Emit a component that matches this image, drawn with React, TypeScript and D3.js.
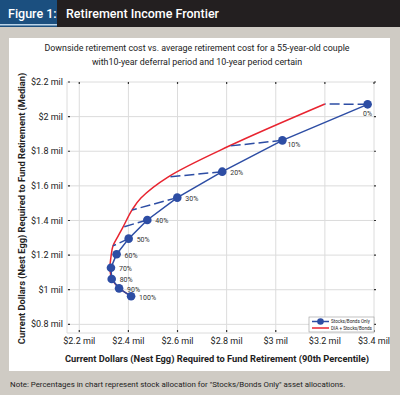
import React, { useRef, useEffect } from 'react';
import * as d3 from 'd3';

// Stocks/Bonds Only portfolios (stock allocation, 90th pct cost, median cost) in $ mil
const stockPct = ['0%', '10%', '20%', '30%', '40%', '50%', '60%', '70%', '80%', '90%', '100%'];
const sbX = [3.374, 3.027, 2.782, 2.599, 2.477, 2.401, 2.352, 2.329, 2.332, 2.362, 2.411];
const sbY = [2.071, 1.863, 1.682, 1.532, 1.403, 1.295, 1.205, 1.127, 1.062, 1.008, 0.962];

// DIA + Stocks/Bonds frontier
const diaX = [3.2, 2.81, 2.561, 2.451, 2.415, 2.378, 2.358, 2.337, 2.329, 2.325, 2.333, 2.362, 2.411];
const diaY = [2.073, 1.83, 1.651, 1.53, 1.461, 1.362, 1.31, 1.253, 1.189, 1.126, 1.062, 1.01, 0.964];

// which DIA point each Stocks/Bonds portfolio moves to (dashed)
const dashFrom = [0, 1, 2, 3, 4, 5];
const dashTo = [0, 1, 2, 4, 5, 7];

const xTicks = [2.2, 2.4, 2.6, 2.8, 3, 3.2, 3.4];
const yTicks = [0.8, 1, 1.2, 1.4, 1.6, 1.8, 2, 2.2];

const BLUE = '#2d4da4';
const RED = '#e82430';
const FONT = 'Roboto, "Noto Sans", sans-serif';

export default function App() {
    const svgRef = useRef<SVGSVGElement>(null);
    const width = 400;
    const height = 395;
    const margin = { top: 82, right: 26, bottom: 62, left: 67 };

    useEffect(() => {
        const svg = d3.select(svgRef.current);
        svg.selectAll('*').remove();

        // page background + header
        svg.append('rect').attr('width', width).attr('height', height).attr('fill', '#cfcbc4');
        svg.append('rect').attr('width', width).attr('height', 27).attr('fill', '#231f20');
        svg.append('rect').attr('width', 57).attr('height', 27).attr('fill', '#1b4f7f');
        svg.append('rect').attr('y', 24).attr('width', 57).attr('height', 1.5).attr('fill', '#b9d3e8');
        svg.append('text')
            .attr('x', 8).attr('y', 18)
            .attr('fill', 'white').attr('font-size', 12.5).attr('font-weight', 500)
            .attr('font-family', FONT)
            .text('Figure 1:');
        svg.append('text')
            .attr('x', 66).attr('y', 18)
            .attr('fill', 'white').attr('font-size', 12.5).attr('font-weight', 500)
            .attr('font-family', FONT)
            .text('Retirement Income Frontier');

        // white panel
        svg.append('rect').attr('x', 9).attr('y', 38).attr('width', 381).attr('height', 333).attr('fill', 'white');

        svg.append('text')
            .attr('x', 197).attr('y', 51)
            .attr('text-anchor', 'middle').attr('font-size', 8.9).attr('fill', '#222')
            .attr('font-family', FONT)
            .text('Downside retirement cost vs. average retirement cost for a 55-year-old couple');
        svg.append('text')
            .attr('x', 197).attr('y', 65)
            .attr('text-anchor', 'middle').attr('font-size', 8.9).attr('fill', '#222')
            .attr('font-family', FONT)
            .text('with10-year deferral period and 10-year period certain');

        // scales
        const x = d3.scaleLinear().domain([2.15, 3.4]).range([margin.left, width - margin.right]);
        const y = d3.scaleLinear().domain([0.75, 2.2]).range([height - margin.bottom, margin.top]);
        const x0 = margin.left, x1 = width - margin.right;
        const y0 = height - margin.bottom, y1 = margin.top;

        // grid
        const grid = svg.append('g').attr('stroke', '#dcdcdc').attr('stroke-width', 1);
        grid.selectAll('line.v').data(xTicks).join('line')
            .attr('x1', d => x(d)).attr('x2', d => x(d)).attr('y1', y1).attr('y2', y0);
        grid.selectAll('line.h').data(yTicks).join('line')
            .attr('x1', x0).attr('x2', x1).attr('y1', d => y(d)).attr('y2', d => y(d));
        grid.append('line').attr('x1', x0).attr('x2', x0).attr('y1', y1).attr('y2', y0);
        grid.append('line').attr('x1', x0).attr('x2', x1).attr('y1', y0).attr('y2', y0);

        // little tick marks on the frame
        const tk = svg.append('g').attr('stroke', '#333').attr('stroke-width', 1.2);
        tk.selectAll('line.b').data(xTicks).join('line')
            .attr('x1', d => x(d)).attr('x2', d => x(d)).attr('y1', y0 - 3).attr('y2', y0 - 1);
        tk.selectAll('line.t').data(xTicks).join('line')
            .attr('x1', d => x(d)).attr('x2', d => x(d)).attr('y1', y1).attr('y2', y1 + 2);
        tk.selectAll('line.l').data(yTicks).join('line')
            .attr('x1', x0 + 1).attr('x2', x0 + 3).attr('y1', d => y(d)).attr('y2', d => y(d));
        tk.selectAll('line.r').data(yTicks).join('line')
            .attr('x1', x1).attr('x2', x1 + 2).attr('y1', d => y(d)).attr('y2', d => y(d));

        // axes labels
        svg.append('g').selectAll('text').data(xTicks).join('text')
            .attr('x', d => x(d)).attr('y', y0 + 11)
            .attr('text-anchor', 'middle').attr('font-size', 9).attr('fill', '#222')
            .attr('font-family', FONT)
            .text(d => `$${d} mil`);
        svg.append('g').selectAll('text').data(yTicks).join('text')
            .attr('x', x0 - 4).attr('y', d => y(d)).attr('dy', '0.35em')
            .attr('text-anchor', 'end').attr('font-size', 9).attr('fill', '#222')
            .attr('font-family', FONT)
            .text(d => `$${d} mil`);

        svg.append('text')
            .attr('x', 217).attr('y', 362)
            .attr('text-anchor', 'middle').attr('font-size', 9.3).attr('font-weight', 'bold').attr('fill', '#222')
            .attr('font-family', FONT)
            .text('Current Dollars (Nest Egg) Required to Fund Retirement (90th Percentile)');
        svg.append('text')
            .attr('transform', `translate(25,${(y0 + y1) / 2 + 1}) rotate(-90)`)
            .attr('text-anchor', 'middle').attr('font-size', 9.3).attr('font-weight', 'bold').attr('fill', '#222')
            .attr('font-family', FONT)
            .text('Current Dollars (Nest Egg) Required to Fund Retirement (Median)');

        // DIA frontier
        const line = d3.line<number>().x(i => x(diaX[i])).y(i => y(diaY[i])).curve(d3.curveCatmullRom.alpha(0.5));
        svg.append('path')
            .datum(d3.range(diaX.length))
            .attr('fill', 'none').attr('stroke', RED).attr('stroke-width', 1.5)
            .attr('d', line);

        // dashed links
        svg.append('g').selectAll('line').data(dashFrom).join('line')
            .attr('x1', (d, i) => x(sbX[d])).attr('y1', (d, i) => y(sbY[d]))
            .attr('x2', (d, i) => x(diaX[dashTo[i]])).attr('y2', (d, i) => y(diaY[dashTo[i]]))
            .attr('stroke', BLUE).attr('stroke-width', 1.5).attr('stroke-dasharray', '10,4');

        // Stocks/Bonds line + dots
        const sbLine = d3.line<number>().x(i => x(sbX[i])).y(i => y(sbY[i]));
        svg.append('path')
            .datum(d3.range(sbX.length))
            .attr('fill', 'none').attr('stroke', BLUE).attr('stroke-width', 1.5)
            .attr('d', sbLine);
        svg.append('g').selectAll('circle').data(d3.range(sbX.length)).join('circle')
            .attr('cx', i => x(sbX[i])).attr('cy', i => y(sbY[i])).attr('r', 4.3)
            .attr('fill', BLUE);

        svg.append('g').selectAll('text').data(d3.range(sbX.length)).join('text')
            .attr('x', i => x(sbX[i]) + (i === 0 ? 0 : i === 1 ? 5 : 8))
            .attr('y', i => y(sbY[i]) + (i === 0 ? 9 : i === 1 ? 4 : 1))
            .attr('dy', '0.35em')
            .attr('text-anchor', i => (i === 0 ? 'middle' : 'start'))
            .attr('font-size', 7).attr('fill', '#333')
            .attr('font-family', FONT)
            .text(i => stockPct[i]);

        // legend
        const lg = svg.append('g').attr('transform', 'translate(309,317)');
        lg.append('rect').attr('width', 65).attr('height', 15).attr('fill', 'white')
            .attr('stroke', '#999').attr('stroke-width', 0.6);
        lg.append('line').attr('x1', 3).attr('x2', 20).attr('y1', 4.5).attr('y2', 4.5)
            .attr('stroke', BLUE).attr('stroke-width', 1.5);
        lg.append('circle').attr('cx', 11.5).attr('cy', 4.5).attr('r', 3.3).attr('fill', BLUE);
        lg.append('line').attr('x1', 3).attr('x2', 20).attr('y1', 11).attr('y2', 11)
            .attr('stroke', RED).attr('stroke-width', 1.5);
        lg.append('text').attr('x', 22).attr('y', 4.5).attr('dy', '0.35em')
            .attr('font-size', 4.6).attr('fill', '#222').attr('font-family', FONT)
            .text('Stocks/Bonds Only');
        lg.append('text').attr('x', 22).attr('y', 11).attr('dy', '0.35em')
            .attr('font-size', 4.6).attr('fill', '#222').attr('font-family', FONT)
            .text('DIA + Stocks/Bonds');

        // note
        svg.append('text')
            .attr('x', 10).attr('y', 387)
            .attr('font-size', 7.9).attr('fill', '#222')
            .attr('font-family', FONT)
            .text('Note: Percentages in chart represent stock allocation for "Stocks/Bonds Only" asset allocations.');
    }, []);

    return (
        <svg
            ref={svgRef}
            width={width}
            height={height}
            style={{ position: 'absolute', left: 0, top: 0, display: 'block' }}
        />
    );
}
